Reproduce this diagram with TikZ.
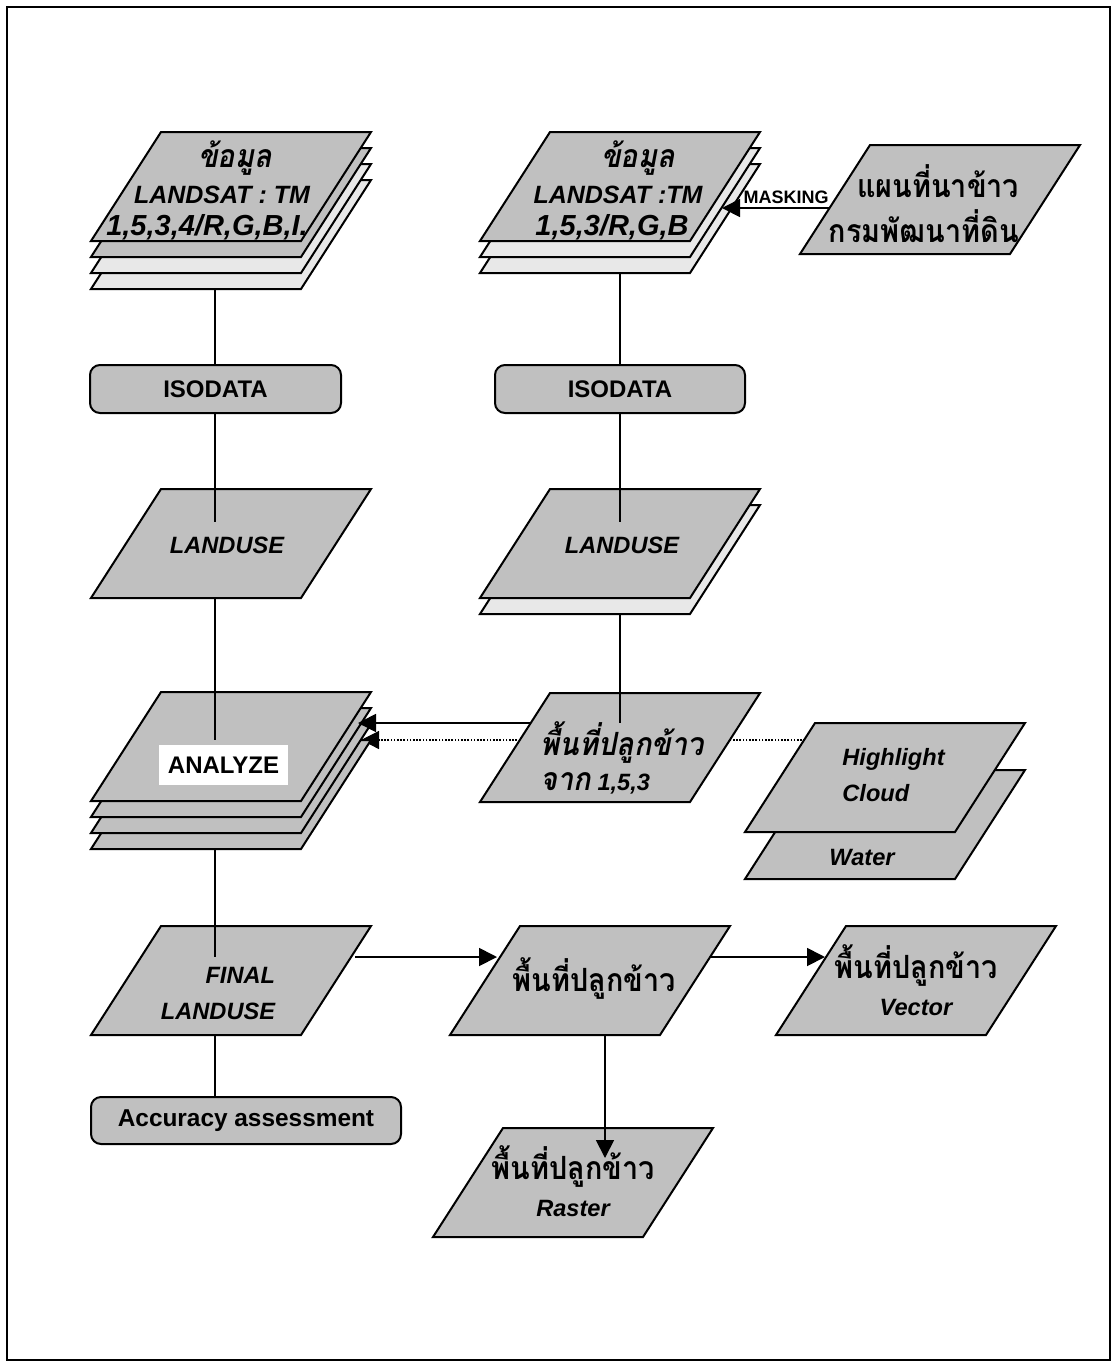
\documentclass[tikz,border=0pt]{standalone}
\usepackage{fontspec}
\setmainfont{Liberation Sans}
\newfontfamily\thaifont[Script=Thai,FakeStretch=0.9]{Loma}
\usetikzlibrary{arrows.meta,positioning,calc}
\definecolor{sgray}{HTML}{C0C0C0}
\definecolor{slight}{HTML}{E8E8E8}
\tikzset{
  sheet/.style={draw=black,line width=1pt,line join=miter},
  rbox/.style={draw=black,fill=sgray,rounded corners=5pt,line width=1pt,inner sep=0pt,font=\bfseries\fontsize{12}{13}\selectfont},
  txt/.style={align=center,inner sep=0pt,font=\bfseries\itshape\fontsize{11.8}{13.5}\selectfont},
  link/.style={line width=0.65pt},
  arr/.style={-{Triangle[length=9pt,width=9pt]},line width=0.9pt},
  dotarr/.style={-{Triangle[length=9pt,width=9pt]},line width=0.6pt,dash pattern=on 0.8pt off 0.8pt},
}
\newcommand{\thx}[1]{{\thaifont\fontsize{16}{18}\selectfont #1}}
\newcommand{\bandtx}[1]{{\fontsize{14.5}{16}\selectfont #1}}
% one sheet: lower left corner (x,y) in px, fill
\newcommand{\sheet}[3]{%
  \filldraw[sheet,fill=#3] (#1,#2) -- ++(210,0) -- ++(70,-109) -- ++(-210,0) -- cycle;}

\begin{document}
\begin{tikzpicture}[x=0.5pt,y=-0.5pt]
  \useasboundingbox (0,0) rectangle (1113,1366);
  \draw[line width=1.3pt] (7,7) rectangle (1110,1360);

  % anchor points on the sheets
  \coordinate (s1b) at (215,289);
  \coordinate (lu1in) at (215,522);
  \coordinate (lu1b) at (215,598);
  \coordinate (anain) at (215,740);
  \coordinate (anab) at (215,849);
  \coordinate (finin) at (215,957);
  \coordinate (finb) at (215,1035);
  \coordinate (finr) at (355,957);
  \coordinate (s2b) at (620,273);
  \coordinate (s2r) at (722,208);
  \coordinate (mapl) at (829,208);
  \coordinate (lu2in) at (620,522);
  \coordinate (lu2b) at (620,614);
  \coordinate (r1in) at (620,723);
  \coordinate (r1l) at (531,723);
  \coordinate (anar) at (358,723);
  \coordinate (anar2) at (361,740);
  \coordinate (hll) at (805,740);
  \coordinate (r2l) at (497,957);
  \coordinate (r2r) at (711,957);
  \coordinate (r2b) at (605,1035);
  \coordinate (vecl) at (825,957);
  \coordinate (rasin) at (605,1158);

  % dotted line runs behind the rice sheet
  \draw[dotarr] (hll) -- (anar2);

  % sheets
  \foreach \y/\c in {289/slight,273/slight,257/sgray,241/sgray} {\sheet{91}{\y}{\c}}
  \foreach \y/\c in {273/slight,257/slight,241/sgray} {\sheet{480}{\y}{\c}}
  \sheet{800}{254}{sgray}
  \sheet{91}{598}{sgray}
  \sheet{480}{614}{slight}
  \sheet{480}{598}{sgray}
  \foreach \y in {849,833,817,801} {\sheet{91}{\y}{sgray}}
  \sheet{480}{802}{sgray}
  \sheet{745}{879}{sgray}
  \sheet{745}{832}{sgray}
  \sheet{91}{1035}{sgray}
  \sheet{450}{1035}{sgray}
  \sheet{776}{1035}{sgray}
  \sheet{433}{1237}{sgray}

  % boxes
  \node[rbox,minimum width=125.5pt,minimum height=24pt] (iso1) at (215.5,389) {ISODATA};
  \node[rbox,minimum width=125pt,minimum height=24pt] (iso2) at (620,389) {ISODATA};
  \node[rbox,minimum width=155pt,minimum height=23.5pt,font=\bfseries\fontsize{12.2}{13}\selectfont] (acc) at (246,1120.5) {Accuracy assessment};
  \node[fill=white,minimum width=64.5pt,minimum height=20pt,inner sep=0pt,font=\bfseries\fontsize{12}{13}\selectfont] (ana) at (223.5,765) {ANALYZE};

  % texts on the sheets
  \node[txt,font=\bfseries\itshape\fontsize{12.5}{14}\selectfont] (src1) at (222,190) {\hspace*{13pt}\thx{ข้อมูล}\\[4pt]LANDSAT : TM\\[2pt]\bandtx{1,5,3,4/R,G,B,I.}\hspace*{15pt}};
  \node[txt,font=\bfseries\itshape\fontsize{12.5}{14}\selectfont] (src2) at (618,190) {\hspace*{20pt}\thx{ข้อมูล}\\[4pt]LANDSAT :TM\\[2pt]\bandtx{1,5,3/R,G,B}\hspace*{6pt}};
  \node[txt,align=right,font=\bfseries\upshape] (map) at (924,204) {\thx{แผนที่นาข้าว}\\[5pt]\thx{กรมพัฒนาที่ดิน}};
  \node[txt] (lu1) at (227,545) {LANDUSE};
  \node[txt] (lu2) at (622,545) {LANDUSE};
  \node[txt,align=left] (rice1) at (622,758) {\thx{พื้นที่ปลูกข้าว}\\[4pt]\thx{จาก} 1,5,3};
  \node[txt,align=left,anchor=west] (cloud) at (842,775) {Highlight\\[4.5pt]Cloud};
  \node[txt] (water) at (862,857) {Water};
  \node[txt,align=right] (fin) at (218,993) {FINAL\\[4.5pt]LANDUSE};
  \node[txt,font=\bfseries\upshape] (rice2) at (594,978) {\thx{พื้นที่ปลูกข้าว}};
  \node[txt] (vec) at (916,980) {{\upshape\thx{พื้นที่ปลูกข้าว}}\\[5pt]Vector};
  \node[txt] (ras) at (573,1181) {{\upshape\thx{พื้นที่ปลูกข้าว}}\\[5pt]Raster};

  % connectors
  \draw[link] (s1b) -- (s1b |- iso1.north);
  \draw[link] (iso1.south -| s1b) -- (lu1in);
  \draw[link] (lu1b) -- (anain);
  \draw[link] (anab) -- (finin);
  \draw[link] (finb) -- (finb |- acc.north);
  \draw[link] (s2b) -- (s2b |- iso2.north);
  \draw[link] (iso2.south -| s2b) -- (lu2in);
  \draw[link] (lu2b) -- (r1in);
  \draw[arr] (mapl) -- node[above,pos=0.4,inner sep=1.5pt,font=\bfseries\fontsize{9}{10}\selectfont] (masking) {MASKING} (s2r);
  \draw[arr] (r1l) -- (anar);
  \draw[arr] (finr) -- (r2l);
  \draw[arr] (r2r) -- (vecl);
  \draw[arr] (r2b) -- (rasin);
\end{tikzpicture}
\end{document}
